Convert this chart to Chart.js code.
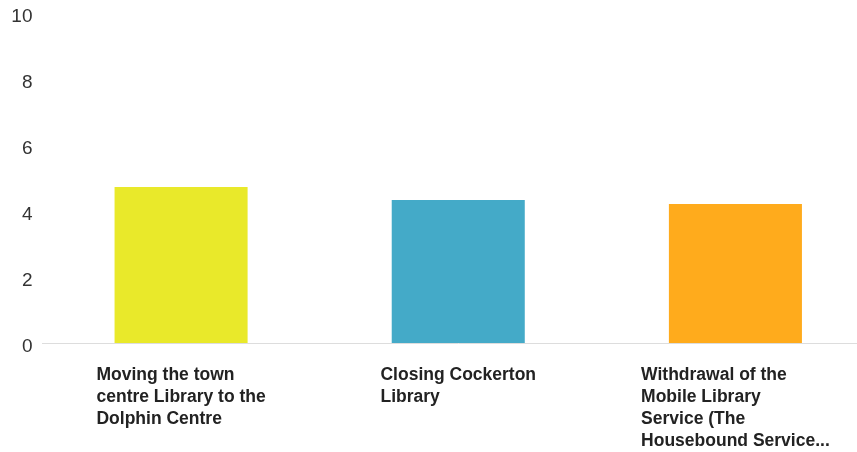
<!DOCTYPE html>
<html lang="en">

<head>
    <meta charset="UTF-8">
    <meta name="viewport" content="width=device-width, initial-scale=1.0">
    <title>Library changes</title>
    <script src="https://cdn.jsdelivr.net/npm/chart.js"></script>
    <style>
        body {
            margin: 0;
            background: white;
            overflow: hidden;
        }

        #grafico {
            width: 874px;
            height: 452px;
        }
    </style>
</head>

<body>
    <div id="grafico">
        <canvas id="grafico-barras"></canvas>
    </div>
</body>

</html>

<script>
    // categories (already broken into lines like the original)
    const categories = [
        ['Moving the town', 'centre Library to the', 'Dolphin Centre'],
        ['Closing Cockerton', 'Library'],
        ['Withdrawal of the', 'Mobile Library', 'Service (The', 'Housebound Service...']
    ];
    const values = [4.73, 4.33, 4.21];
    const barColors = ['#e9e92a', '#44aac8', '#ffab1c'];
    const yTicks = [0, 2, 4, 6, 8, 10];

    // draws the x labels: block centred under the bar, lines left aligned
    const labelsPlugin = {
        id: 'labelsPlugin',
        afterDraw(chart) {
            const ctx = chart.ctx;
            const xScale = chart.scales.x;
            ctx.save();
            ctx.font = 'bold 17.5px "Liberation Sans", Arial, sans-serif';
            ctx.fillStyle = '#222';
            ctx.textAlign = 'left';
            ctx.textBaseline = 'middle';
            for (let i = 0; i < categories.length; i++) {
                const lines = categories[i];
                let maior = 0;
                for (let j = 0; j < lines.length; j++) {
                    maior = Math.max(maior, ctx.measureText(lines[j]).width);
                }
                const cx = xScale.getPixelForValue(i);
                const x0 = cx - maior / 2;
                for (let j = 0; j < lines.length; j++) {
                    ctx.fillText(lines[j], x0, xScale.top + 32 + j * 22);
                }
            }
            ctx.restore();
        }
    };

    const ctx = document.getElementById('grafico-barras');
    new Chart(ctx, {
        type: 'bar',
        data: {
            labels: categories.map(c => c.join(' ')),
            datasets: [{
                data: values,
                backgroundColor: barColors,
                borderWidth: 0,
                barPercentage: 0.48,
                categoryPercentage: 1
            }]
        },
        options: {
            responsive: true,
            maintainAspectRatio: false,
            animation: false,
            layout: {
                padding: { top: 13, right: 0, bottom: 0, left: 0 }
            },
            scales: {
                y: {
                    min: 0,
                    max: 10,
                    afterBuildTicks: (scale) => {
                        scale.ticks = yTicks.map(v => ({ value: v }));
                    },
                    afterFit: (scale) => {
                        scale.width = 42.5;
                        scale.paddingTop = 0;
                        scale.paddingBottom = 0;
                    },
                    grid: { display: false, drawTicks: false },
                    border: { display: false },
                    ticks: {
                        padding: 10,
                        labelOffset: 4,
                        color: '#333',
                        font: { size: 19, family: '"Liberation Sans", Arial, sans-serif' }
                    }
                },
                x: {
                    afterFit: (scale) => {
                        scale.height = 109;
                    },
                    grid: { display: false },
                    border: { display: true, color: '#dddddd', width: 1 },
                    ticks: { display: false }
                }
            },
            plugins: {
                legend: { display: false },
                tooltip: { enabled: false }
            }
        },
        plugins: [labelsPlugin]
    });
</script>
